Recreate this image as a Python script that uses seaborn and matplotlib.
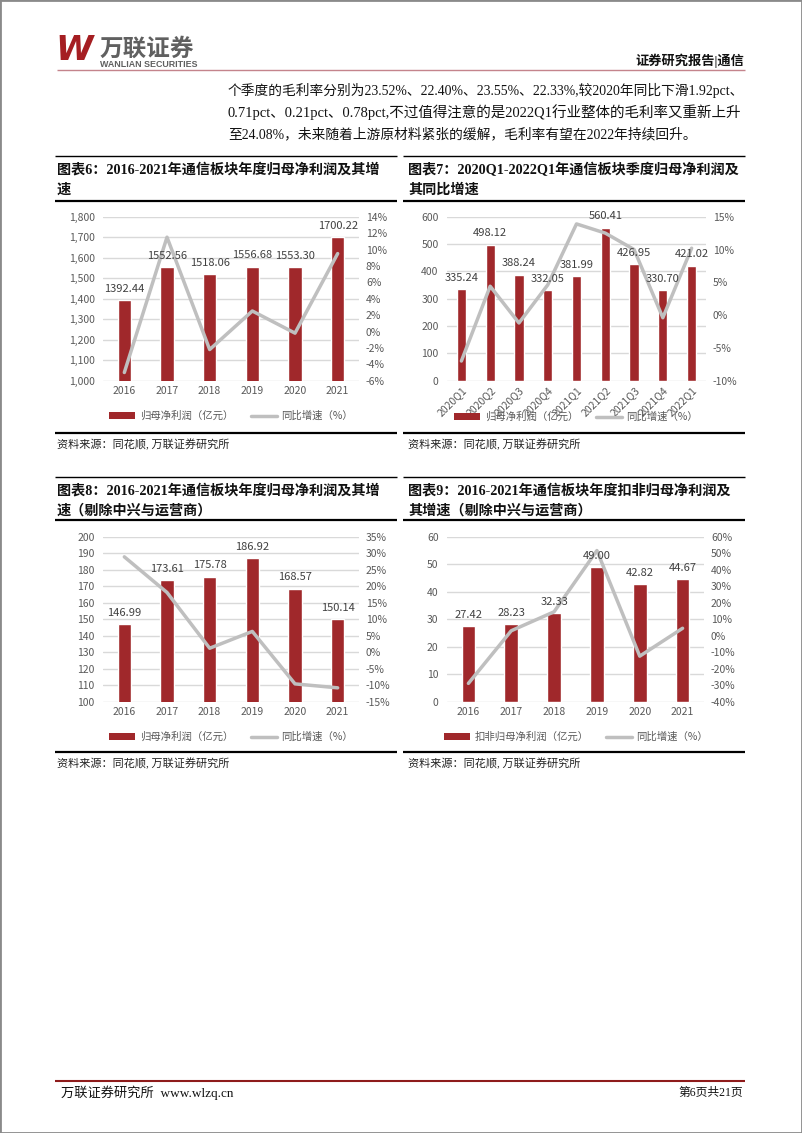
import numpy as np
import pandas as pd
import matplotlib
matplotlib.use("Agg")
import matplotlib.pyplot as plt
import seaborn as sns
from matplotlib.patches import Patch, Rectangle
from matplotlib.lines import Line2D
from matplotlib.ticker import FuncFormatter, MultipleLocator

# ---------------- data ----------------
years = ["2016", "2017", "2018", "2019", "2020", "2021"]
quarters = ["2020Q1", "2020Q2", "2020Q3", "2020Q4", "2021Q1",
            "2021Q2", "2021Q3", "2021Q4", "2022Q1"]

profit6 = [1392.44, 1552.56, 1518.06, 1556.68, 1553.30, 1700.22]
growth6 = [-5.0, 11.5, -2.2, 2.5, -0.2, 9.5]

profit7 = [335.24, 498.12, 388.24, 332.05, 381.99, 560.41, 426.95, 330.70, 421.02]
growth7 = [-7.0, 4.4, -1.2, 4.6, 13.9, 12.5, 10.0, -0.4, 10.2]

profit8 = [146.99, 173.61, 175.78, 186.92, 168.57, 150.14]
growth8 = [28.9, 18.1, 1.2, 6.3, -9.6, -10.8]

profit9 = [27.42, 28.23, 32.33, 49.00, 42.82, 44.67]
growth9 = [-28.9, 3.0, 14.5, 51.6, -12.4, 4.5]

titles6 = ["图表6：2016-2021年通信板块年度归母净利润及其增", "速"]
titles7 = ["图表7：2020Q1-2022Q1年通信板块季度归母净利润及", "其同比增速"]
titles8 = ["图表8：2016-2021年通信板块年度归母净利润及其增", "速（剔除中兴与运营商）"]
titles9 = ["图表9：2016-2021年通信板块年度扣非归母净利润及", "其增速（剔除中兴与运营商）"]

legend_bar = "归母净利润（亿元）"
legend_bar9 = "扣非归母净利润（亿元）"
legend_line = "同比增速（%）"
source = "资料来源：同花顺, 万联证券研究所"

body = ["个季度的毛利率分别为23.52%、22.40%、23.55%、22.33%,较2020年同比下滑1.92pct、",
        "0.71pct、0.21pct、0.78pct,不过值得注意的是2022Q1行业整体的毛利率又重新上升",
        "至24.08%，未来随着上游原材料紧张的缓解，毛利率有望在2022年持续回升。"]

# ---------------- style ----------------
sns.set_style("white")
plt.rcParams['font.family'] = ['Noto Sans CJK SC', 'DejaVu Sans']
plt.rcParams['axes.unicode_minus'] = False

W, H = 802, 1133
RED = "#A0282B"
GRAY = "#BFBFBF"
GRID = "#D9D9D9"
TICK = "#595959"
SERIF = ['Liberation Serif', 'Noto Sans CJK SC']

fig = plt.figure(figsize=(W / 100, H / 100), dpi=100)


def fx(x):
    return x / W


def fy(y):
    return 1 - y / H


def hline(x0, x1, y, color="black", lw=1.0):
    fig.add_artist(Line2D([fx(x0), fx(x1)], [fy(y), fy(y)],
                          transform=fig.transFigure, color=color, lw=lw,
                          solid_capstyle='butt'))


def panel(x0, x1, y0, y1, cats, bars, growth, ylim, ystep, y2lim, y2step,
          comma=False, rotate=False, leg_bar=legend_bar, leg_xy=(0, 0)):
    ax = fig.add_axes([fx(x0), fy(y1), (x1 - x0) / W, (y1 - y0) / H])
    df = pd.DataFrame({"cat": cats, "val": bars})
    sns.barplot(data=df, x="cat", y="val", ax=ax, color=RED, saturation=1,
                width=0.32, zorder=2)
    ax2 = ax.twinx()
    dl = pd.DataFrame({"cat": cats, "g": growth})
    sns.lineplot(data=dl, x="cat", y="g", ax=ax2, color=GRAY, lw=2.5,
                 sort=False, legend=False, zorder=3)
    n = len(cats)
    ax.set_xlim(-0.5, n - 0.5)
    ax.set_ylim(*ylim)
    ax.yaxis.set_major_locator(MultipleLocator(ystep))
    if comma:
        ax.yaxis.set_major_formatter(FuncFormatter(lambda v, p: f"{v:,.0f}"))
    else:
        ax.yaxis.set_major_formatter(FuncFormatter(lambda v, p: f"{v:.0f}"))
    ax2.set_ylim(*y2lim)
    ax2.yaxis.set_major_locator(MultipleLocator(y2step))
    ax2.yaxis.set_major_formatter(FuncFormatter(lambda v, p: f"{v:.0f}%"))
    for a in (ax, ax2):
        for s in a.spines.values():
            s.set_visible(False)
        a.set_xlabel("")
        a.set_ylabel("")
    ax.grid(axis='y', color=GRID, lw=1.0)
    ax.grid(axis='x', visible=False)
    ax.set_axisbelow(True)
    ax.tick_params(axis='y', length=0, pad=6, labelsize=7.5, labelcolor=TICK)
    ax2.tick_params(axis='y', length=0, pad=5, labelsize=7.5, labelcolor=TICK)
    if rotate:
        ax.tick_params(axis='x', length=0, pad=3, labelsize=7.5,
                       labelcolor=TICK, labelrotation=45)
        for lb in ax.get_xticklabels():
            lb.set_ha('right')
            lb.set_rotation_mode('anchor')
    else:
        ax.tick_params(axis='x', length=0, pad=4, labelsize=7.5, labelcolor=TICK)
    ax.set_xlim(-0.5, n - 0.5)
    # data labels on top of everything
    for p, v in zip(ax.patches, bars):
        ax2.annotate(f"{v:.2f}", xy=(p.get_x() + p.get_width() / 2, p.get_height()),
                     xycoords=ax.transData, xytext=(0, 4.5), textcoords='offset points',
                     ha='center', va='bottom', fontsize=8, color='#404040', zorder=10)
    handles = [Patch(facecolor=RED, edgecolor='none'),
               Line2D([0], [0], color=GRAY, lw=2.5)]
    ax.legend(handles, [leg_bar, legend_line], loc='center',
              bbox_to_anchor=(fx(leg_xy[0]), fy(leg_xy[1])),
              bbox_transform=fig.transFigure, ncol=2, frameon=False,
              fontsize=7.5, handlelength=2.5, handleheight=0.55,
              handletextpad=0.4, columnspacing=1.7, labelcolor=TICK)
    return ax, ax2


def frame(x0, x1, ytop, ymid, ybot, tlines, tx):
    hline(x0, x1, ytop, lw=1.0)
    hline(x0, x1, ymid, lw=1.6)
    hline(x0, x1, ybot, lw=1.6)
    fig.text(fx(tx), fy(ytop + 14), tlines[0], fontsize=10.2, weight='bold',
             va='center', ha='left', family=SERIF, color='#111111')
    fig.text(fx(tx), fy(ytop + 34), tlines[1], fontsize=10.2, weight='bold',
             va='center', ha='left', family=SERIF, color='#111111')
    fig.text(fx(tx), fy(ybot + 12), source, fontsize=8, va='center', ha='left',
             color='#222222', family=SERIF)


# ---------------- header ----------------
fig.text(fx(55), fy(51), "W", fontsize=24.5, weight='bold', style='italic',
         color='#A51E22', family='DejaVu Sans', va='center', ha='left')
fig.text(fx(100), fy(49), "万联证券", fontsize=17, weight='bold', color='#606060',
         va='center', ha='left')
fig.text(fx(100), fy(64.5), "WANLIAN SECURITIES", fontsize=6.4, weight='bold',
         color='#606060', family='Liberation Sans', va='center', ha='left')
fig.text(fx(744), fy(61), "证券研究报告|通信", fontsize=9.5, weight='bold',
         color='#111111', va='center', ha='right', family=SERIF)
hline(57, 745, 69.5, color='#C4848C', lw=1.0)

# body text, fitted to the column width
r = fig.canvas.get_renderer()
sizes = []
for i, (s, y) in enumerate(zip(body, [90, 112, 134])):
    t = fig.text(fx(228), fy(y), s, fontsize=9.5, va='center', ha='left',
                 family=SERIF, color='#111111')
    if i < 2:
        w = t.get_window_extent(r).width
        t.set_fontsize(9.5 * 517 / w)
        sizes.append(9.5 * 517 / w)
    else:
        t.set_fontsize(min(sizes))

# ---------------- panels ----------------
frame(55, 397, 156, 200.7, 433, titles6, 57)
panel(103, 359, 216.7, 380.7, years, profit6, growth6, (1000, 1800), 100,
      (-6, 14), 2, comma=True, leg_xy=(231, 416))

frame(403, 745, 156, 200.7, 433, titles7, 408)
panel(447, 706, 216.7, 380.7, quarters, profit7, growth7, (0, 600), 100,
      (-10, 15), 5, rotate=True, leg_xy=(576, 417))

frame(55, 397, 477, 520, 752, titles8, 57)
panel(103, 359, 536.7, 701.7, years, profit8, growth8, (100, 200), 10,
      (-15, 35), 5, leg_xy=(231, 737))

frame(403, 745, 477, 520, 752, titles9, 408)
panel(447, 704, 536.7, 701.7, years, profit9, growth9, (0, 60), 10,
      (-40, 60), 10, leg_bar=legend_bar9, leg_xy=(576, 737))

# ---------------- footer ----------------
hline(55, 745, 1081, color='#8E1B1B', lw=1.5)
fig.text(fx(61), fy(1093), "万联证券研究所  www.wlzq.cn", fontsize=9.5,
         va='center', ha='left', family=SERIF, color='#111111')
fig.text(fx(743), fy(1093), "第6页共21页", fontsize=8.5, va='center', ha='right',
         family=SERIF, color='#111111')

fig.add_artist(Rectangle((0, 0), 1, 1, transform=fig.transFigure, fill=False,
                         edgecolor='#8A8A8A', lw=2))

fig.savefig("out.png", dpi=100)
